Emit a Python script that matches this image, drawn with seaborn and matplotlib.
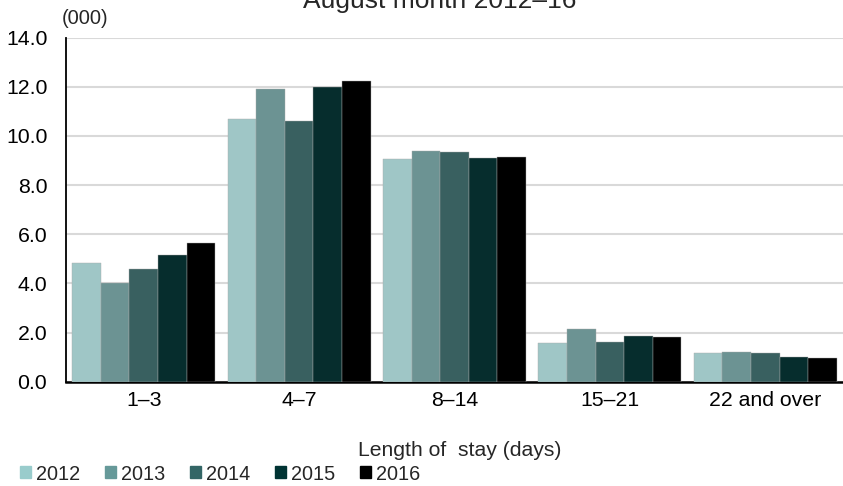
import numpy as np
import pandas as pd
import matplotlib
matplotlib.use("Agg")
import matplotlib.pyplot as plt
import seaborn as sns

stay = ['1–3', '4–7', '8–14', '15–21', '22 and over']
years = ['2012', '2013', '2014', '2015', '2016']
v2012 = [4.83, 10.68, 9.05, 1.56, 1.16]
v2013 = [4.02, 11.91, 9.39, 2.14, 1.21]
v2014 = [4.57, 10.63, 9.35, 1.62, 1.17]
v2015 = [5.16, 11.98, 9.10, 1.84, 0.99]
v2016 = [5.65, 12.25, 9.16, 1.81, 0.95]
colors = ['#99cccc', '#669999', '#336666', '#003333', '#000000']

df = pd.DataFrame({'stay': stay * 5,
                   'year': np.repeat(years, 5),
                   'value': v2012 + v2013 + v2014 + v2015 + v2016})

sns.set_style('white')
plt.rcParams['font.family'] = ['Liberation Sans', 'DejaVu Sans']

fig = plt.figure(figsize=(8.43, 4.86), dpi=100)
ax = fig.add_axes([66/843, 1 - 381.7/486, 1 - 66/843, (381.7 - 37.7)/486])

sns.barplot(data=df, x='stay', y='value', hue='year', palette=colors,
            width=0.92, gap=0, ax=ax, legend=False, edgecolor='#aaaaaa', linewidth=0.3)
for bar in ax.patches:
    bar.set_zorder(3)

ax.set_xlim(-0.5, 4.5)
ax.set_ylim(0, 14)
ax.set_yticks(np.arange(0, 15, 2))
ax.set_yticklabels([f'{t:.1f}' for t in np.arange(0, 15, 2)])
ax.yaxis.grid(True, color='#d9d9d9', lw=1.5, zorder=0)
ax.set_axisbelow(True)
ax.set_xlabel('')
ax.set_ylabel('')
for s in ['top', 'right']:
    ax.spines[s].set_visible(False)
ax.spines['left'].set_color('black')
ax.spines['left'].set_linewidth(1.3)
ax.spines['bottom'].set_color('black')
ax.spines['bottom'].set_linewidth(1.8)
ax.tick_params(axis='both', length=0, labelsize=15.3, colors='black')
ax.tick_params(axis='x', pad=6.5)
ax.tick_params(axis='y', pad=13.5)

fig.text(440/843, 1 - 8/486, 'August month 2012–16', fontsize=19, ha='center', va='baseline')
fig.text(62/843, 1 - 18/486, '(000)', fontsize=14.5, ha='left', va='center')
fig.text(460/843, 1 - 450/486, 'Length of  stay (days)', fontsize=15.2, ha='center', va='center')

handles = [plt.Rectangle((0, 0), 1, 1, color=c) for c in colors]
fig.legend(handles, years, loc='center left', bbox_to_anchor=(20/843, 1 - 474/486),
           ncol=5, frameon=False, fontsize=14.3, handlelength=0.55, handleheight=0.55,
           handletextpad=0.25, columnspacing=1.25, borderaxespad=0, borderpad=0)

fig.savefig('out.png', dpi=100)
